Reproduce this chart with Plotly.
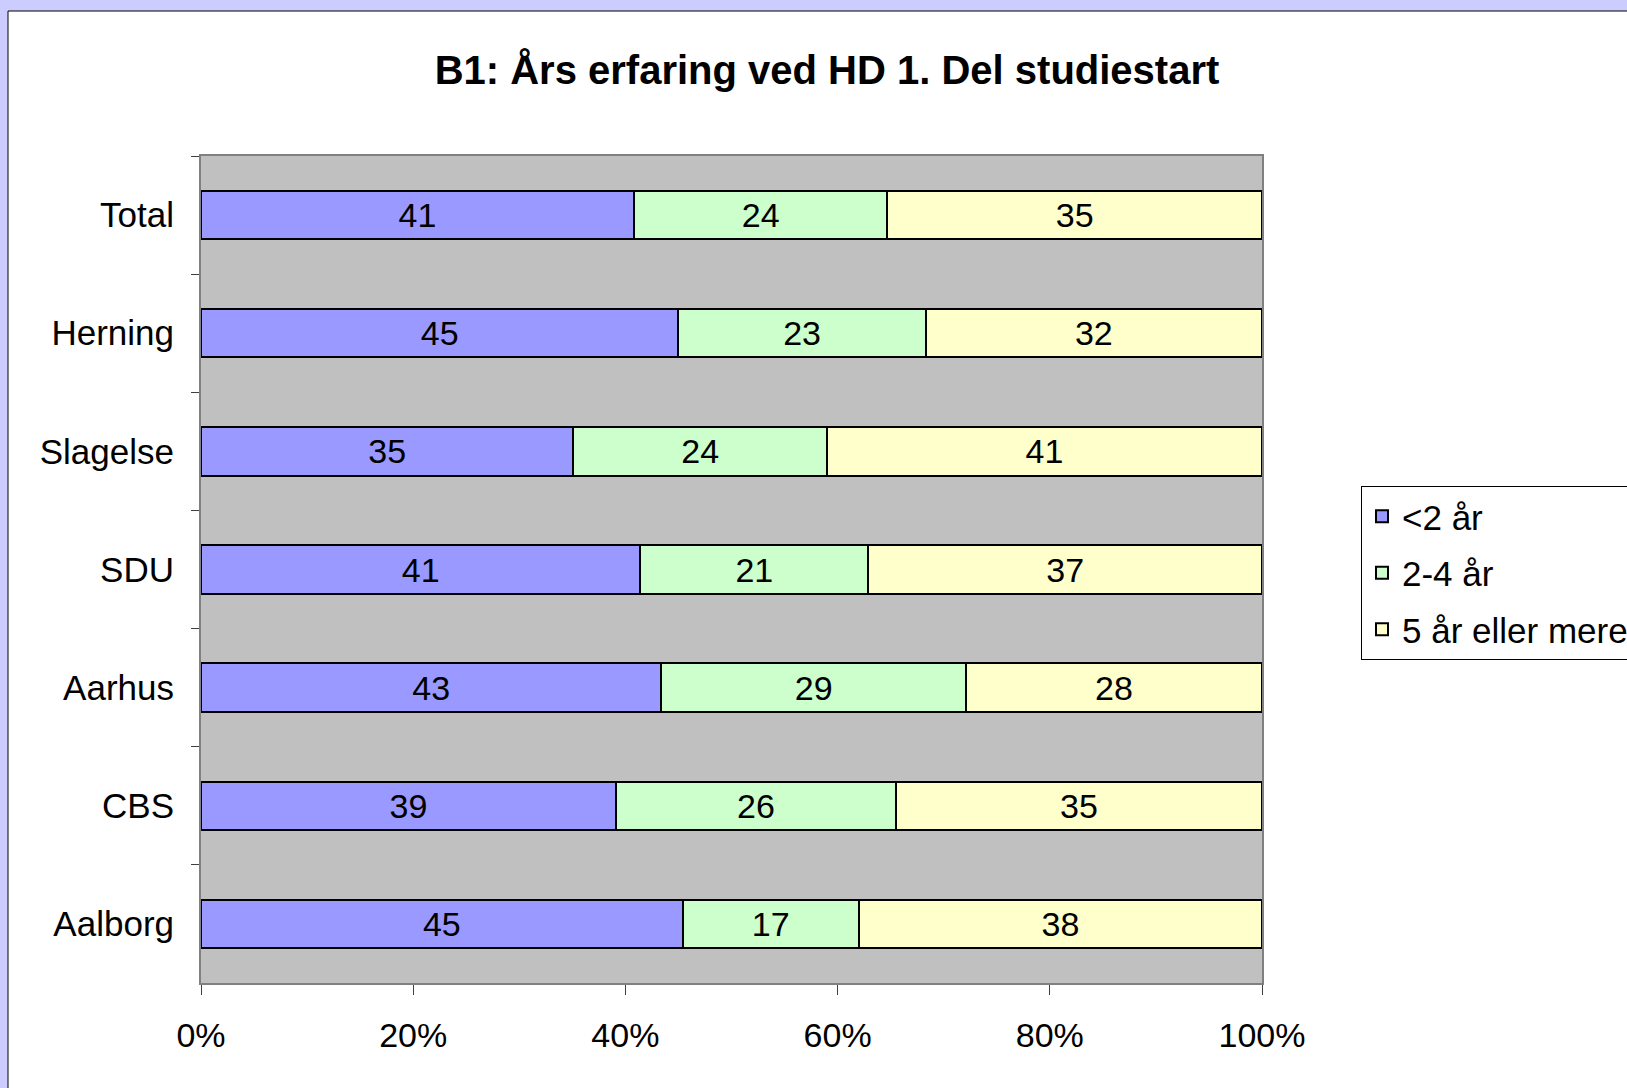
import plotly.graph_objects as go

categories = ["Total", "Herning", "Slagelse", "SDU", "Aarhus", "CBS", "Aalborg"]
under2 = [40.8, 45.0, 35.1, 41.4, 43.4, 39.1, 45.4]
two_four = [23.9, 23.3, 23.9, 21.5, 28.7, 26.4, 16.6]
five_plus = [35.3, 31.7, 41.0, 37.1, 27.9, 34.5, 38.0]
under2_lbl = [41, 45, 35, 41, 43, 39, 45]
two_four_lbl = [24, 23, 24, 21, 29, 26, 17]
five_plus_lbl = [35, 32, 41, 37, 28, 35, 38]
series_names = ["<2 år", "2-4 år", "5 år eller mere"]
colors = ["#9999FF", "#CCFFCC", "#FFFFCC"]
x_ticks = [0, 20, 40, 60, 80, 100]

FONT = "Liberation Sans, Arial, Helvetica, sans-serif"

fig = go.Figure()
for i, (name, vals, lbls, col) in enumerate(zip(series_names, [under2, two_four, five_plus],
                                 [under2_lbl, two_four_lbl, five_plus_lbl], colors)):
    fig.add_trace(go.Bar(
        y=categories, x=vals, name=name, orientation="h", legendgroup=f"g{i}",
        marker=dict(color=col, line=dict(color="#000000", width=2)),
        text=[str(v) for v in lbls], textposition="inside",
        insidetextanchor="middle", constraintext="none",
        textfont=dict(family=FONT, size=34, color="#000000"),
        hoverinfo="x+y+name",
    ))

L, T, R, B = 201, 156, 1262, 983
W, H = 1627, 1088
pw, ph = R - L, B - T

fig.update_layout(
    width=W, height=H,
    barmode="stack", bargap=0.59,
    paper_bgcolor="#CCCCFF", plot_bgcolor="#C0C0C0",
    margin=dict(l=L, r=W - R, t=T, b=H - B, pad=0, autoexpand=False),
    font=dict(family=FONT, size=34, color="#000000"),
    title=dict(text="<b>B1: Års erfaring ved HD 1. Del studiestart</b>",
               font=dict(family=FONT, size=40, color="#000000"),
               x=797 / 1568, xref="container", xanchor="center",
               y=1 - 70 / H, yref="container", yanchor="middle"),
    legend=dict(x=(1361 - L) / pw, y=1 - (486 - T) / ph, xanchor="left", yanchor="top",
                bgcolor="#FFFFFF", bordercolor="#000000", borderwidth=1,
                font=dict(family=FONT, size=35, color="#000000"),
                traceorder="grouped", itemsizing="constant", tracegroupgap=8),
    showlegend=True,
    shapes=[
        dict(type="rect", xref="paper", yref="paper", layer="below",
             x0=(8 - L) / pw, x1=(W + 50 - L) / pw,
             y0=1 - (H + 50 - T) / ph, y1=1 + (T - 11) / ph,
             fillcolor="#FFFFFF", line=dict(color="#000000", width=1)),
        dict(type="rect", xref="paper", yref="paper", layer="below",
             x0=0, x1=1, y0=0, y1=1,
             fillcolor="#C0C0C0", line=dict(width=0)),
    ],
)
fig.update_xaxes(range=[0, 100], tickvals=x_ticks, ticktext=[f"{v}%" for v in x_ticks],
                 showgrid=False, zeroline=False, showline=True, linecolor="#808080",
                 linewidth=2, mirror=True, ticks="outside", ticklen=10, tickwidth=1,
                 tickcolor="#404040", ticklabelstandoff=11,
                 tickfont=dict(family=FONT, size=34, color="#000000"))
fig.update_yaxes(categoryorder="array", categoryarray=categories, autorange="reversed",
                 showgrid=False, zeroline=False, showline=True, linecolor="#808080",
                 linewidth=2, mirror=True, ticks="outside", ticklen=8, tickwidth=1,
                 tickcolor="#404040", tickson="boundaries", ticklabelstandoff=18,
                 tickfont=dict(family=FONT, size=35, color="#000000"))

fig.write_html("out.html", config={"displayModeBar": False},
               post_script="document.body.style.margin='0';document.body.style.background='#CCCCFF';")
